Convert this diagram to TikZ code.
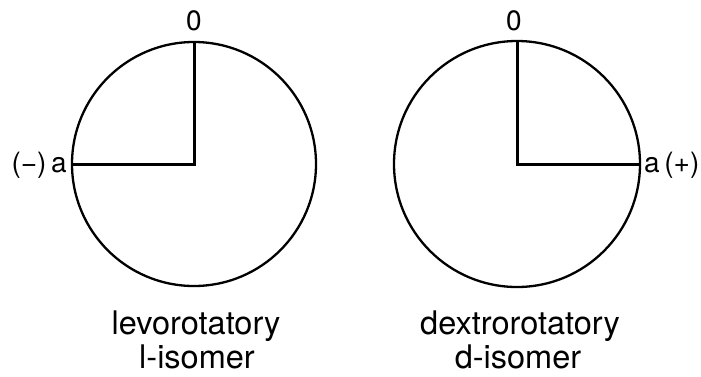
\documentclass[tikz,border=0pt]{standalone}
\usepackage{fontspec}
\setmainfont{TeX Gyre Heros}
\begin{document}
\begin{tikzpicture}[x=1pt,y=-1pt,
  ring/.style={draw,line width=2.3pt},
  radius line/.style={line width=3pt},
  lbl/.style={inner sep=0pt,font=\fontsize{28}{30}\selectfont},
  captext/.style={inner sep=0pt,anchor=base,font=\fontsize{32.5}{36}\selectfont}]
\useasboundingbox (0,0) rectangle (701,376);
% left
\coordinate (lc) at (194,164);
\draw[ring] (lc) circle[radius=122];
\coordinate (ltop) at (194,42);
\coordinate (lleft) at (72,164);
\draw[radius line] (ltop) -- (lc) -- (lleft);
\node[lbl] (l0) at (194,21) {0};
\node[lbl,anchor=east] (la) at (67,165) {(−)\,a};
\node[captext] (lcap1) at (196,334) {levorotatory};
\node[captext] (lcap2) at (197,368) {l-isomer};
% right
\coordinate (rc) at (517,164);
\draw[ring] (rc) circle[radius=123];
\coordinate (rtop) at (517,41);
\coordinate (rright) at (640,164);
\draw[radius line] (rtop) -- (rc) -- (rright);
\node[lbl] (r0) at (514,21) {0};
\node[lbl,anchor=west] (ra) at (644,165) {a\,(+)};
\node[captext] (rcap1) at (520,334) {dextrorotatory};
\node[captext] (rcap2) at (518,368) {d-isomer};
\end{tikzpicture}
\end{document}
